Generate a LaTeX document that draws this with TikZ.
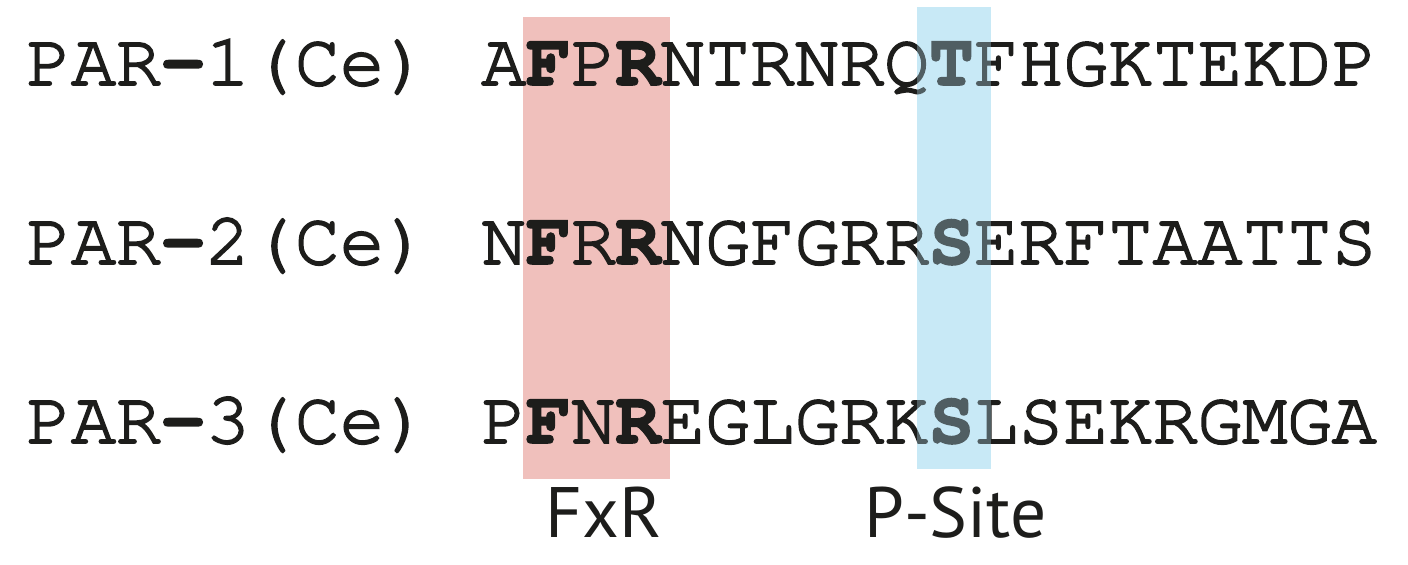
\documentclass[tikz,border=0pt]{standalone}
\usepackage{fontspec}
\newfontfamily\seqfont[UprightFeatures={FakeBold=2.5},BoldFeatures={FakeBold=2}]{TeX Gyre Cursor}
\newfontfamily\labelfont{PT Sans}
\definecolor{inkblack}{RGB}{29,29,27}
\definecolor{fxrred}{RGB}{240,192,188}
\definecolor{psiteblue}{RGB}{200,233,246}
\begin{document}
\begin{tikzpicture}[x=0.5pt,y=-0.5pt,
  seqtext/.style={anchor=base west,inner sep=0pt,text=inkblack,font=\fontsize{37.3pt}{37.3pt}\selectfont\seqfont},
  tagtext/.style={anchor=base,inner sep=0pt,text=inkblack,font=\fontsize{35.7pt}{35.7pt}\selectfont\labelfont}]
\useasboundingbox (0,0) rectangle (1408,564);
\newcommand{\bb}[1]{{\bfseries #1}}
% red highlight behind text
\fill[fxrred] (523,17) rectangle (670,479);
% protein labels
\node[seqtext] (lab1) at (26,85)  {PAR\bb{-}1(Ce)};
\node[seqtext] (lab2) at (26,264) {PAR\bb{-}2(Ce)};
\node[seqtext] (lab3) at (26,443) {PAR\bb{-}3(Ce)};
% sequences
\node[seqtext] (seq1) at (481,85)  {A\bb{F}P\bb{R}NTRNRQ\bb{T}FHGKTEKDP};
\node[seqtext] (seq2) at (481,264) {N\bb{F}R\bb{R}NGFGRR\bb{S}ERFTAATTS};
\node[seqtext] (seq3) at (481,443) {P\bb{F}N\bb{R}EGLGRK\bb{S}LSEKRGMGA};
% blue highlight over text
\fill[white,fill opacity=0.33] (917,7) rectangle (991,469);
\fill[psiteblue,blend mode=multiply] (917,7) rectangle (991,469);
% motif labels
\node[tagtext] (fxr) at (603.5,537) {FxR};
\node[tagtext] (psite) at (955.5,537) {P-Site};
\end{tikzpicture}
\end{document}
